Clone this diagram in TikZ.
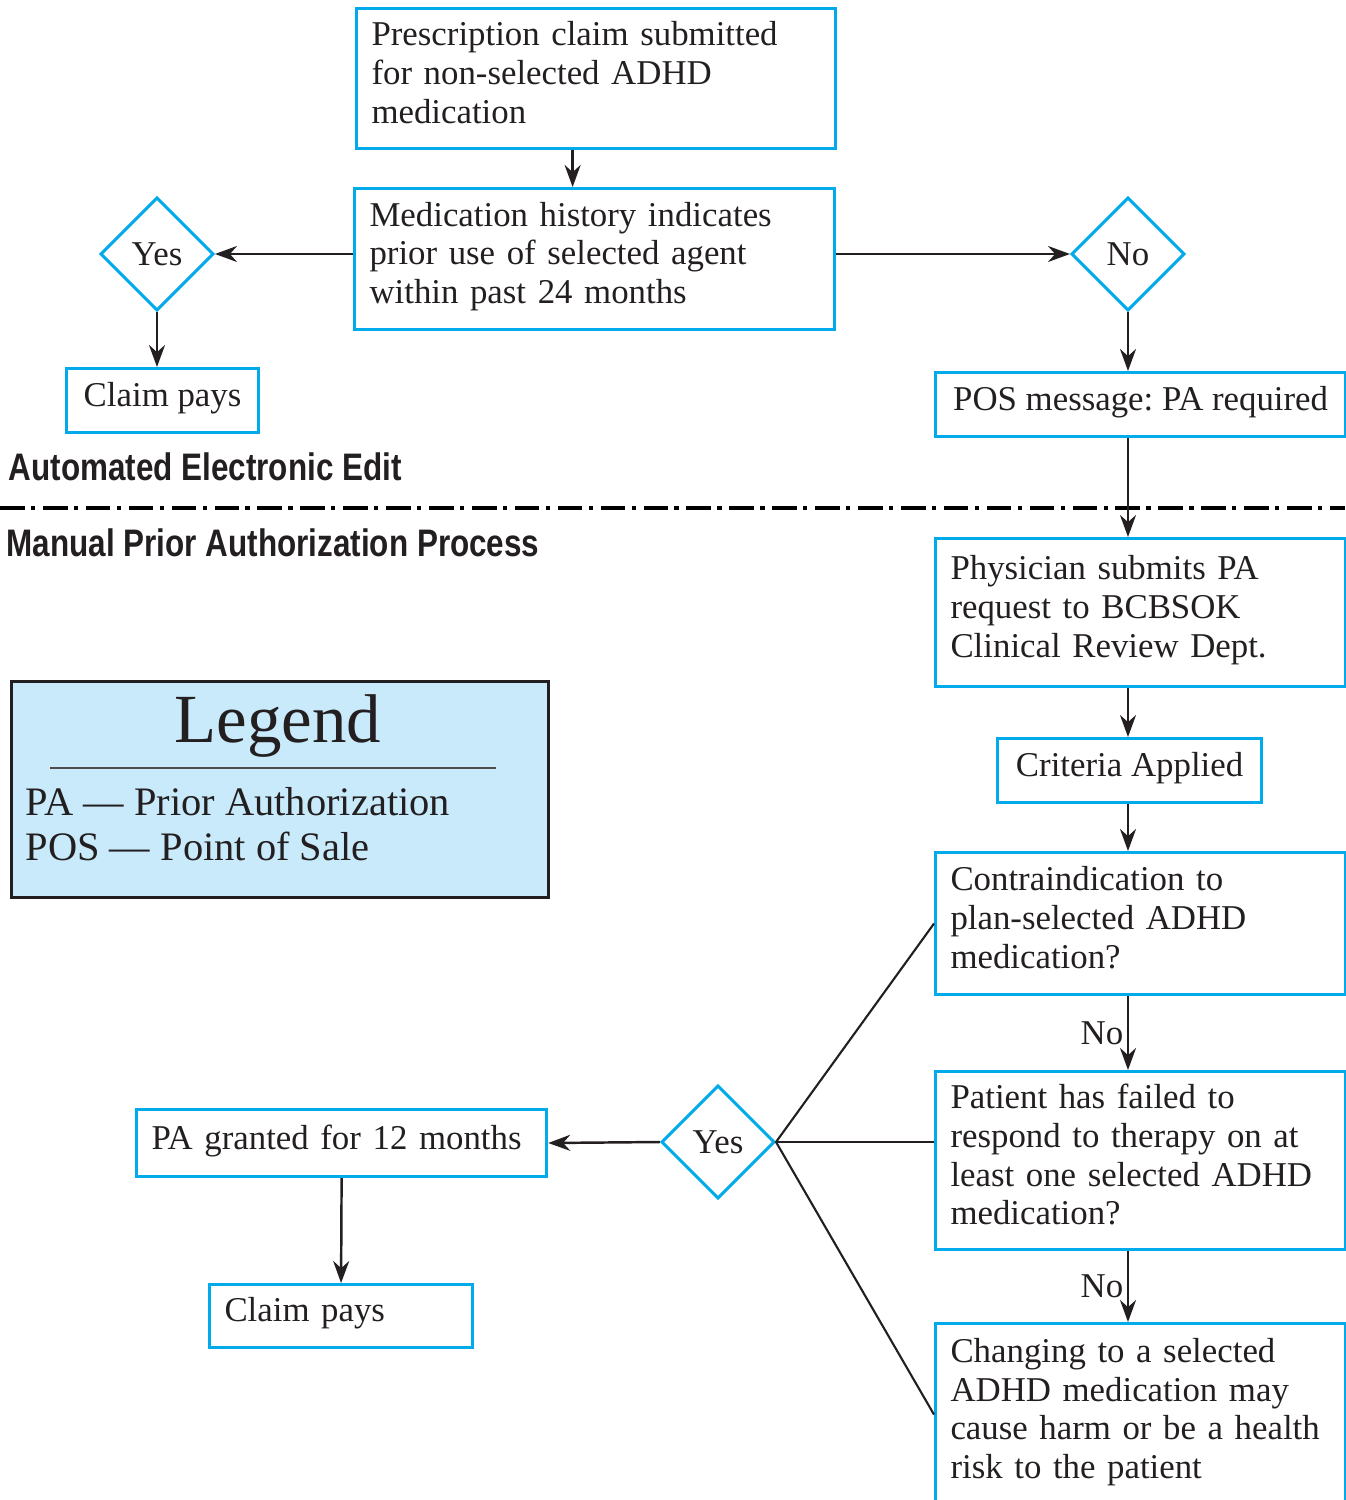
\documentclass[tikz,border=0pt]{standalone}
\usepackage{fontspec}
\setmainfont{Liberation Serif}
\newfontfamily\headfont[FakeStretch=0.82]{Liberation Sans}
\usetikzlibrary{shapes.geometric,arrows.meta}
\definecolor{pacyan}{RGB}{0,170,235}
\definecolor{legendblue}{RGB}{200,234,250}
\definecolor{inkgray}{RGB}{35,31,32}
\frenchspacing
\begin{document}
\begin{tikzpicture}[x=0.01cm,y=-0.01cm,
  every node/.style={text=inkgray},
  txt/.style={font=\fontsize{9.9}{11}\selectfont},
  box/.style={txt, draw=pacyan, line width=0.85pt, anchor=north west, align=left, inner xsep=1.5mm, inner ysep=0pt, execute at end node={\rule[-3.5pt]{0pt}{0pt}}},
  choice/.style={txt, draw=pacyan, line width=0.85pt, diamond, minimum width=1.13cm, minimum height=1.13cm, inner sep=0pt},
  arr/.style={-{Stealth[length=2.2mm,width=1.6mm]}, line width=0.7pt, draw=inkgray},
  link/.style={line width=0.6pt, draw=inkgray},
  heading/.style={anchor=west, inner sep=0pt, font=\headfont\bfseries\fontsize{10.9}{13}\selectfont},
  legendline/.style={anchor=base west, inner sep=0pt, font=\fontsize{11.5}{12.8}\selectfont}]
\useasboundingbox (0,0) rectangle (1345,1500);
\node[box, text width=4.49cm, minimum height=1.4cm] (presc) at (355,7) {Prescription claim submitted\\for non-selected ADHD\\medication};
\node[box, text width=4.5cm, minimum height=1.41cm] (medhist) at (353,187) {Medication history indicates\\prior use of selected agent\\within past 24 months};
\node[choice] (yes1) at (157,254) {Yes};
\node[choice] (no1) at (1128,254) {No};
\node[box, minimum width=1.92cm, minimum height=0.64cm, inner xsep=0pt] (claim1) at (65,367) {Claim pays};
\node[box, minimum width=4.1cm, minimum height=0.64cm, inner xsep=0pt] (pos) at (934,371) {POS message: PA required};
\node[heading] (autoedit) at (8,467) {Automated Electronic Edit};
\node[heading] (manual) at (6,543) {Manual Prior Authorization Process};
\draw[line width=1.1pt, dash pattern=on 7pt off 1.8pt on 1.2pt off 2.2pt] (0,508) -- (1345,508);
\node[box, text width=3.8cm, minimum height=1.48cm] (phys) at (934,537) {Physician submits PA\\request to BCBSOK\\Clinical Review Dept.};
\node[box, minimum width=2.64cm, minimum height=0.64cm, inner xsep=0pt] (criteria) at (996,737) {Criteria Applied};
\node[box, text width=3.8cm, minimum height=1.42cm] (contra) at (934,851) {Contraindication to\\plan-selected ADHD\\medication?};
\node[box, text width=3.8cm, minimum height=1.78cm] (patient) at (934,1070) {Patient has failed to\\respond to therapy on at\\least one selected ADHD\\medication?};
\node[box, text width=3.8cm, minimum height=1.82cm] (changing) at (934,1322) {Changing to a selected\\ADHD medication may\\cause harm or be a health\\risk to the patient};
\node[choice] (yes2) at (718,1142) {Yes};
\node[box, text width=3.8cm, minimum height=0.67cm] (pagrant) at (135,1108) {PA granted for 12 months};
\node[box, text width=2.33cm, minimum height=0.63cm] (claim2) at (208,1283) {Claim pays};
\node[draw=inkgray, fill=legendblue, line width=0.8pt, anchor=north west, minimum width=5.37cm, minimum height=2.16cm] (legend) at (10,680) {};
\node[anchor=base, inner sep=0pt, font=\fontsize{19.6}{21}\selectfont] (legtitle) at (278,742) {Legend};
\draw[line width=0.5pt, draw=inkgray!80] (legend.north west) ++(40,88) coordinate (rulestart) -- ++(446,0);
\node[legendline] (legpa) at (25,815) {PA \textemdash{} Prior Authorization};
\node[legendline] (legpos) at (25,860) {POS \textemdash{} Point of Sale};
\draw[arr] ([xshift=-2.35mm]presc.south) -- ([xshift=-2.35mm]presc.south |- medhist.north);
\draw[arr] (yes1.east -| medhist.west) -- (yes1.east);
\draw[arr] (no1.west -| medhist.east) -- (no1.west);
\draw[arr] (yes1.south) -- (yes1.south |- claim1.north);
\draw[arr] (no1.south) -- (no1.south |- pos.north);
\draw[arr] (no1.south |- pos.south) -- (no1.south |- phys.north);
\draw[arr] (no1.south |- phys.south) -- (no1.south |- criteria.north);
\draw[arr] (no1.south |- criteria.south) -- (no1.south |- contra.north);
\draw[arr] (no1.south |- contra.south) -- node[txt, left, inner sep=1pt] {No} (no1.south |- patient.north);
\draw[arr] (no1.south |- patient.south) -- node[txt, left, inner sep=1pt] {No} (no1.south |- changing.north);
\draw[link] (contra.west) -- (yes2.east) -- (changing.west);
\draw[link] (yes2.east) -- (yes2.east -| patient.west);
\draw[arr] (yes2.west) -- (pagrant.east);
\draw[arr] (pagrant.south) -- (claim2.north);
\end{tikzpicture}
\end{document}
